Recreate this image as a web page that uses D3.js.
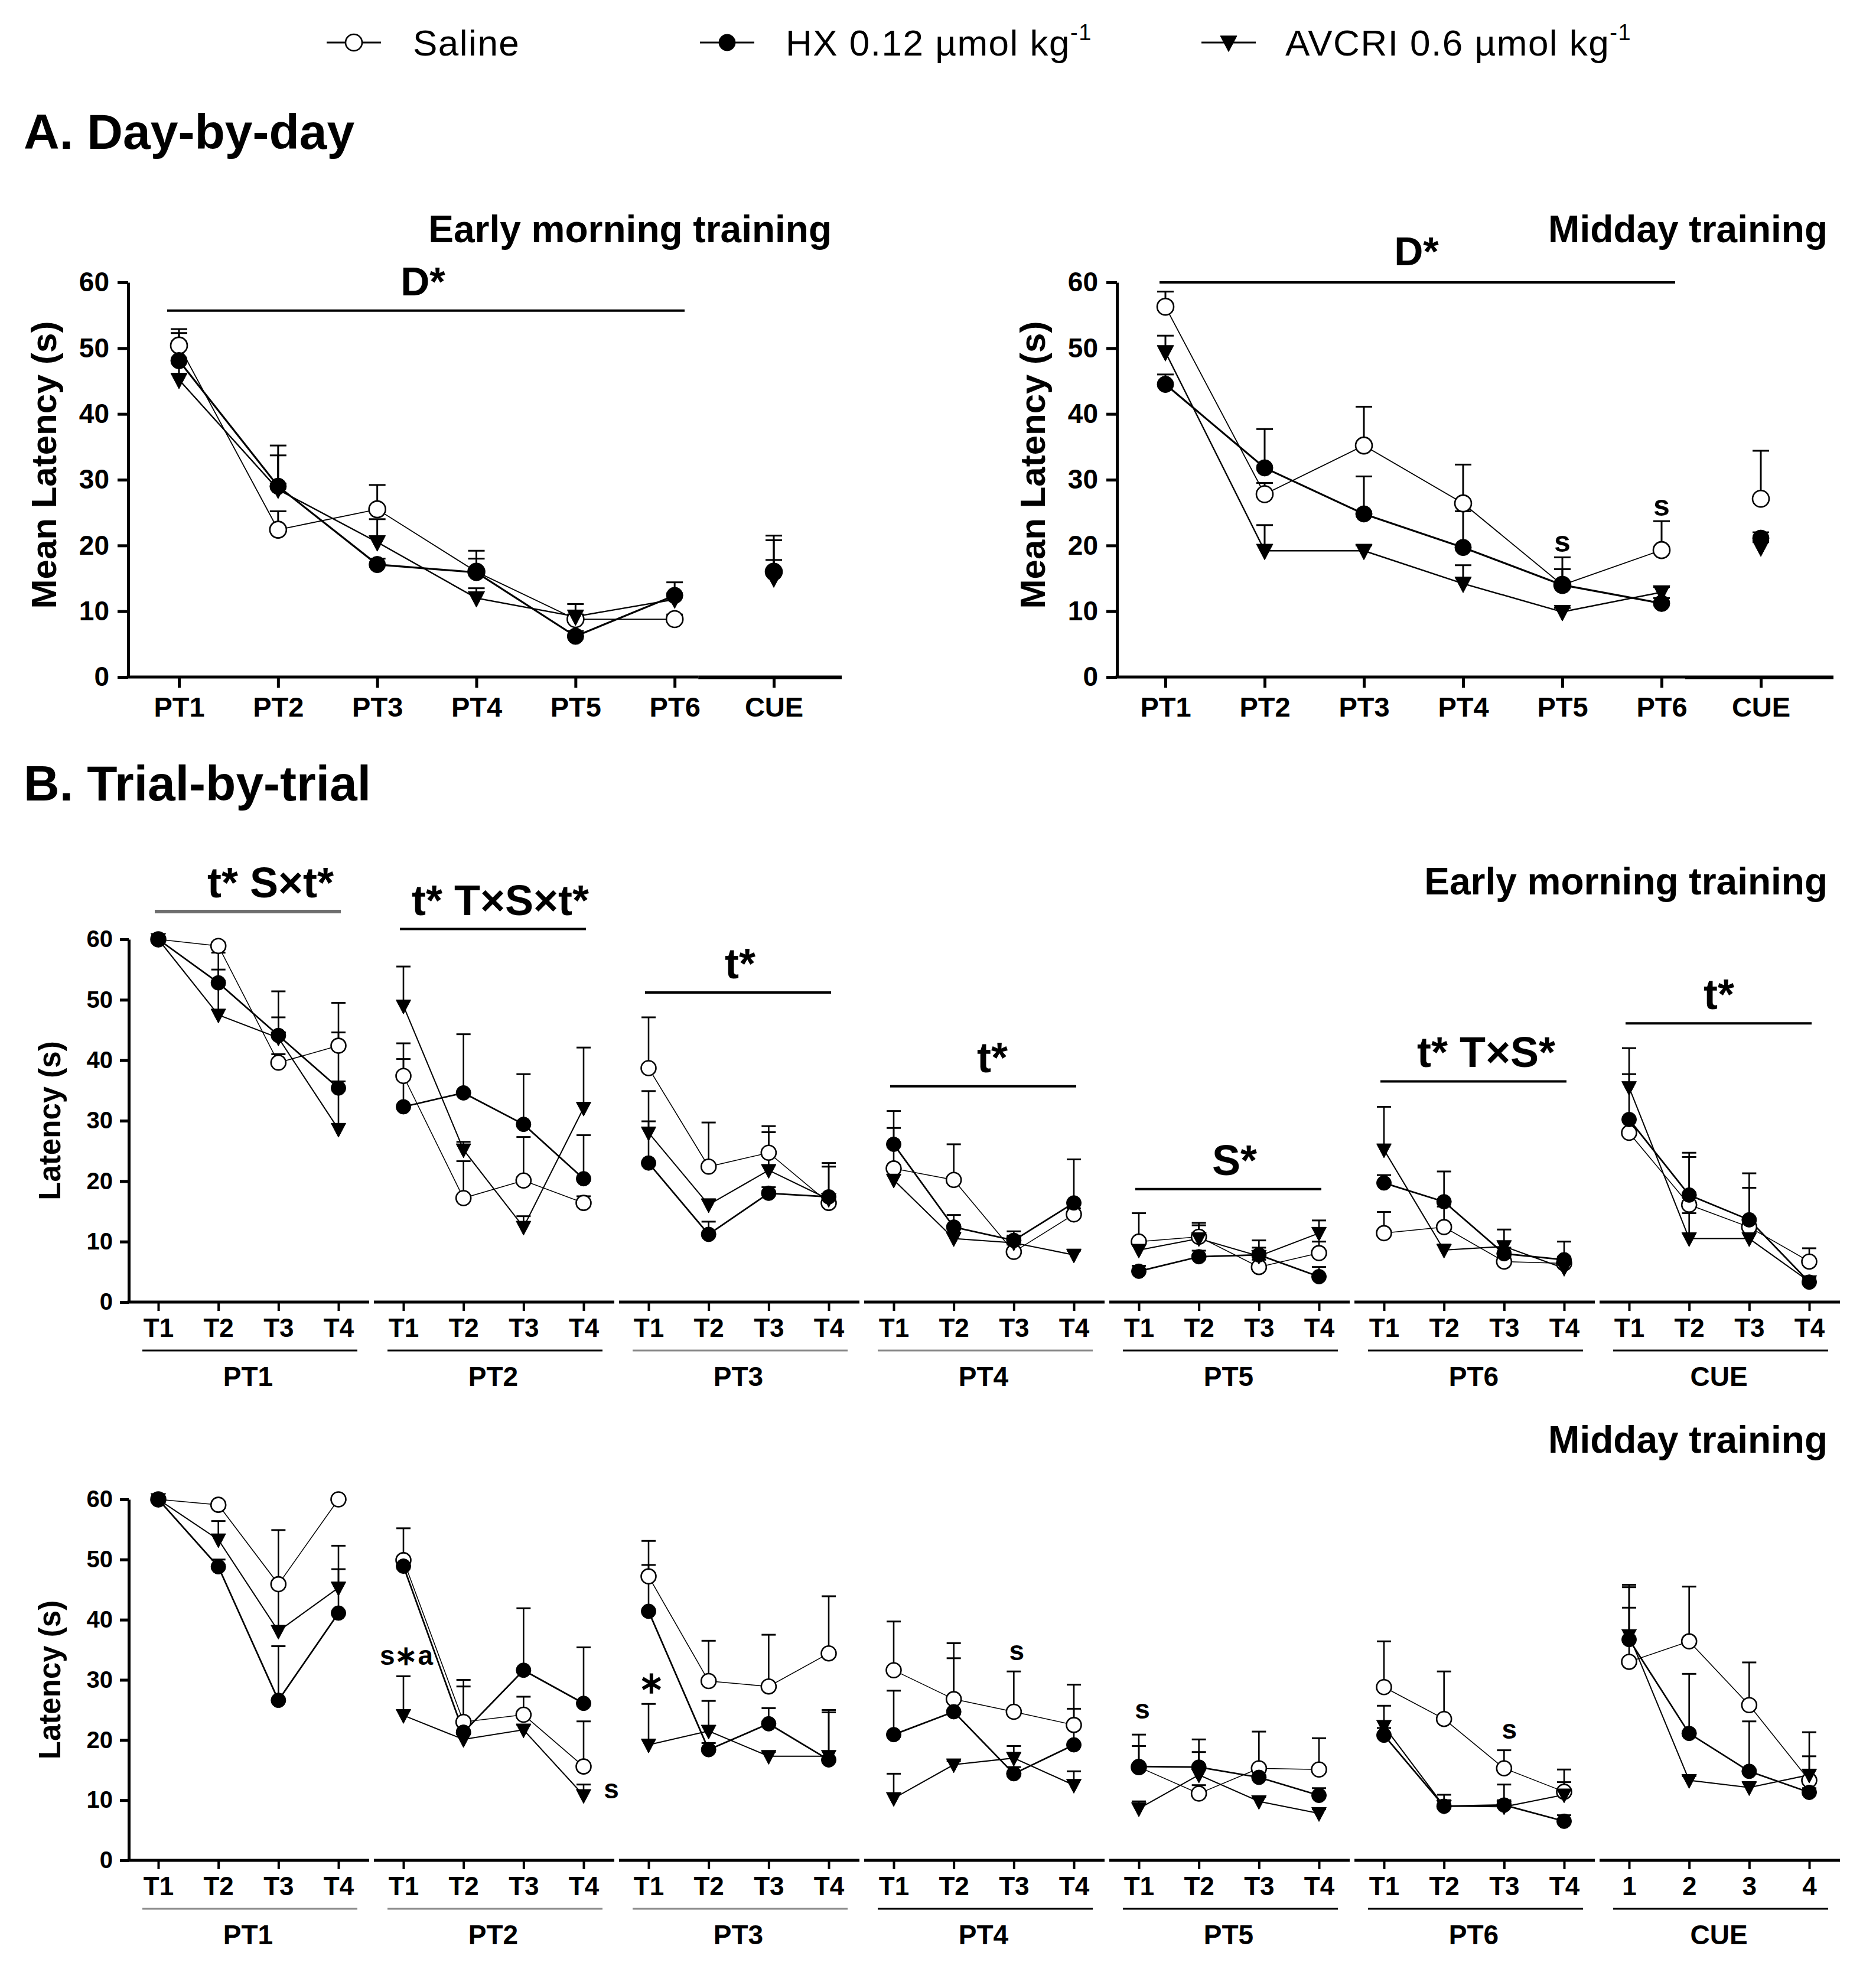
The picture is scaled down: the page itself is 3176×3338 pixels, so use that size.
<!DOCTYPE html>
<html>
<head>
<meta charset="utf-8">
<script src="https://cdn.jsdelivr.net/npm/d3@7"></script>
<style>
  body { margin: 0; background: #fff; }
  svg { display: block; font-family: "Liberation Sans", Arial, sans-serif; }
</style>
</head>
<body>
<svg id="chart" width="3176" height="3338"></svg>
<script>
// ---------- data ----------

const seriesNames = ["Saline", "HX", "AVCRI"];
const days = ["PT1", "PT2", "PT3", "PT4", "PT5", "PT6", "CUE"];
const trials = ["T1", "T2", "T3", "T4"];
const cueTrialLabelsMidday = ["1", "2", "3", "4"];
const yTicks = [0, 10, 20, 30, 40, 50, 60];

// A. Day-by-day : mean latency and top of the SEM bar
const dayEarlySaline    = [50.4, 22.4, 25.5, 16.0, 8.8, 8.8, 16.0];
const dayEarlySalineTop = [52.3, 25.2, 29.2, 18.0, 9.5, 9.5, 21.5];
const dayEarlyHX        = [48.1, 29.0, 17.1, 15.9, 6.2, 12.4, 15.9];
const dayEarlyHXTop     = [52.9, 35.2, 18.0, 19.2, 7.0, 14.4, 20.8];
const dayEarlyAV        = [45.2, 28.5, 20.5, 12.0, 9.2, 11.8, 15.0];
const dayEarlyAVTop     = [51.0, 33.7, 24.0, 13.5, 11.1, 12.5, 17.8];

const dayMidSaline    = [56.3, 27.8, 35.2, 26.4, 14.0, 19.3, 27.1];
const dayMidSalineTop = [58.6, 29.5, 41.1, 32.3, 16.4, 23.7, 34.4];
const dayMidHX        = [44.5, 31.8, 24.8, 19.7, 14.0, 11.2, 21.1];
const dayMidHXTop     = [46.0, 37.7, 30.5, 25.2, 18.2, 12.0, 22.0];
const dayMidAV        = [49.4, 19.2, 19.2, 14.2, 9.9, 12.9, 19.7];
const dayMidAVTop     = [51.9, 23.1, 20.0, 17.0, 10.5, 13.7, 20.5];

// B. Trial-by-trial : one row per day, four trials each
const trialEarlySaline = [
  [60, 58.9, 39.6, 42.4], [37.4, 17.2, 20.1, 16.4], [38.7, 22.4, 24.7, 16.4],
  [22.1, 20.2, 8.3, 14.5], [10.0, 10.8, 5.8, 8.1], [11.4, 12.4, 6.7, 6.4],
  [28.0, 16.1, 12.4, 6.7]];
const trialEarlySalineTop = [
  [60, 59.5, 41.0, 49.5], [42.8, 23.3, 27.3, 17.5], [47.1, 29.7, 29.1, 17.5],
  [28.8, 26.1, 9.5, 15.5], [14.7, 13.1, 7.0, 10.0], [14.9, 15.8, 7.5, 7.5],
  [30.0, 24.0, 18.9, 8.9]];
const trialEarlyHX = [
  [60, 52.8, 44.1, 35.4], [32.3, 34.6, 29.4, 20.4], [23.0, 11.2, 18.0, 17.4],
  [26.1, 12.4, 10.2, 16.4], [5.1, 7.5, 7.8, 4.2], [19.7, 16.6, 8.0, 7.0],
  [30.2, 17.7, 13.6, 3.3]];
const trialEarlyHXTop = [
  [60, 57.8, 51.4, 44.6], [40.2, 44.3, 37.7, 27.6], [29.9, 13.3, 19.0, 22.4],
  [31.6, 14.4, 11.7, 23.6], [6.0, 8.5, 10.2, 5.8], [21.0, 21.6, 9.0, 10.0],
  [37.7, 24.7, 21.3, 4.0]];
const trialEarlyAV = [
  [60, 47.5, 43.7, 28.6], [49.0, 25.2, 12.4, 32.1], [28.0, 16.1, 21.8, 17.0],
  [20.2, 10.5, 9.8, 7.8], [8.6, 10.5, 7.6, 11.4], [25.2, 8.6, 9.2, 5.6],
  [35.5, 10.5, 10.5, 3.4]];
const trialEarlyAVTop = [
  [60, 55.0, 47.1, 36.5], [55.5, 26.5, 14.2, 42.1], [34.9, 17.0, 28.1, 23.0],
  [21.5, 11.5, 11.0, 8.5], [9.5, 12.7, 9.0, 13.5], [32.3, 9.5, 12.0, 6.5],
  [42.0, 14.7, 12.0, 4.2]];

const trialMidSaline = [
  [60, 59.1, 45.9, 60], [49.9, 23.0, 24.2, 15.6], [47.2, 29.8, 28.9, 34.4],
  [31.6, 26.8, 24.7, 22.5], [15.5, 11.1, 15.3, 15.1], [28.8, 23.5, 15.3, 11.4],
  [33.0, 36.4, 25.8, 13.3]];
const trialMidSalineTop = [
  [60, 59.5, 54.9, 60], [55.2, 28.9, 27.2, 23.1], [53.1, 36.5, 37.5, 43.9],
  [39.7, 36.1, 31.4, 29.2], [20.9, 12.5, 21.4, 20.3], [36.4, 31.4, 18.3, 13.0],
  [42.0, 45.5, 32.9, 17.3]];
const trialMidHX = [
  [60, 48.8, 26.6, 41.1], [48.9, 21.3, 31.6, 26.1], [41.4, 18.4, 22.7, 16.7],
  [20.9, 24.7, 14.4, 19.2], [15.6, 15.5, 13.8, 10.8], [20.8, 9.0, 9.2, 6.5],
  [36.7, 21.1, 14.8, 11.3]];
const trialMidHXTop = [
  [60, 50.0, 35.6, 48.4], [50.0, 30.0, 41.9, 35.4], [49.1, 19.5, 25.3, 25.0],
  [28.2, 33.6, 15.5, 25.2], [19.0, 20.1, 15.0, 12.0], [22.0, 10.0, 12.6, 7.5],
  [45.8, 31.0, 23.1, 12.0]];
const trialMidAV = [
  [60, 53.3, 38.1, 45.3], [24.1, 20.1, 21.7, 10.8], [19.2, 21.5, 17.3, 17.3],
  [10.3, 15.9, 17.0, 12.5], [8.6, 14.2, 9.8, 7.8], [22.3, 9.0, 8.9, 10.9],
  [37.4, 13.3, 12.1, 14.2]];
const trialMidAVTop = [
  [60, 56.4, 45.5, 52.3], [30.6, 21.0, 22.5, 12.6], [26.0, 26.5, 18.0, 24.6],
  [14.4, 16.5, 19.0, 14.8], [9.8, 18.0, 10.5, 8.5], [25.7, 10.9, 10.0, 15.1],
  [45.4, 14.0, 13.0, 21.3]];

// statistics labels over each day (value = height of the bar line)
const trialEarlyStats = [
  {day: "PT1", label: "t* S×t*", at: 64.6, dx: 38},
  {day: "PT2", label: "t* T×S×t*", at: 61.7, dx: 12},
  {day: "PT3", label: "t*", at: 51.2, dx: 3},
  {day: "PT4", label: "t*", at: 35.7, dx: 15},
  {day: "PT5", label: "S*", at: 18.7, dx: 10},
  {day: "PT6", label: "t* T×S*", at: 36.5, dx: 21},
  {day: "CUE", label: "t*", at: 46.1, dx: 0}
];
const trialMidNotes = [
  {day: "PT2", trial: "T1", value: 34.1, dx: 5, label: "s∗a"},
  {day: "PT2", trial: "T4", value: 11.9, dx: 47, label: "s"},
  {day: "PT3", trial: "T1", value: 29.6, dx: 5, label: "∗"},
  {day: "PT4", trial: "T3", value: 34.9, dx: 5, label: "s"},
  {day: "PT5", trial: "T1", value: 25.2, dx: 6, label: "s"},
  {day: "PT6", trial: "T3", value: 21.9, dx: 9, label: "s"}
];
const dayMidNotes = [
  {day: "PT5", value: 20.7, label: "s"},
  {day: "PT6", value: 26.1, label: "s"}
];

// ---------- styles ----------
const STYLE = {
  Saline: {fill: "#fff", shape: "circle", lw: 1.8},
  HX:     {fill: "#000", shape: "circle", lw: 3.2},
  AVCRI:  {fill: "#000", shape: "triangle", lw: 2.4}
};
const drawOrder = ["Saline", "AVCRI", "HX"];

const svg = d3.select("#chart");
svg.append("rect").attr("width", 3176).attr("height", 3338).attr("fill", "#fff");

function markerPath(shape, size) {
  if (shape === "circle") return d3.symbol(d3.symbolCircle, Math.PI * size * size / 4)();
  const w = size;
  return `M${-w / 2},${-w * 0.4}L${w / 2},${-w * 0.4}L0,${w * 0.55}Z`;
}

function drawMarker(g, name, cx, cy, size) {
  const st = STYLE[name];
  g.append("path")
    .attr("d", markerPath(st.shape, size))
    .attr("transform", `translate(${cx},${cy})`)
    .attr("fill", st.fill)
    .attr("stroke", "#000")
    .attr("stroke-width", st.shape === "circle" && st.fill === "#fff" ? 2.6 : 1);
}

function styleYAxis(ax, fontSize) {
  ax.attr("font-family", null).attr("font-size", null);
  ax.select(".domain").attr("stroke-width", 5);
  ax.selectAll(".tick line").attr("stroke-width", 5);
  ax.selectAll(".tick text").attr("font-size", fontSize).attr("font-weight", "bold").attr("fill", "#000");
}

// ---------- A. Day-by-day ----------
function drawDayPanel(cfg) {
  const g = svg.append("g");
  const x = d3.scalePoint().domain(days).range(cfg.xRange);
  const y = d3.scaleLinear().domain([0, 60]).range([1146, 478]);

  const yAx = g.append("g").attr("transform", `translate(${cfg.axisX},0)`)
    .call(d3.axisLeft(y).tickValues(yTicks).tickSize(18).tickSizeOuter(0).tickPadding(14));
  styleYAxis(yAx, 46);

  const xAx = g.append("g").attr("transform", `translate(0,${y(0)})`)
    .call(d3.axisBottom(x).tickSize(18).tickSizeOuter(0).tickPadding(16));
  xAx.attr("font-family", null).attr("font-size", null);
  xAx.select(".domain").remove();
  xAx.selectAll(".tick line").attr("stroke-width", 5);
  xAx.selectAll(".tick text").attr("font-size", 47).attr("font-weight", "bold").attr("fill", "#000");

  // baseline: PT days, then a slightly heavier piece under CUE
  const brk = x("PT6") + 40;
  g.append("line").attr("x1", cfg.axisX - 2.5).attr("x2", brk).attr("y1", y(0)).attr("y2", y(0))
    .attr("stroke", "#000").attr("stroke-width", 5);
  g.append("line").attr("x1", brk).attr("x2", cfg.xEnd).attr("y1", y(0) + 0.5).attr("y2", y(0) + 0.5)
    .attr("stroke", "#000").attr("stroke-width", 6);

  g.append("text")
    .attr("transform", `translate(${cfg.axisX - 122},${(y(0) + y(60)) / 2 - 25}) rotate(-90)`)
    .attr("text-anchor", "middle").attr("font-size", 60).attr("font-weight", "bold")
    .text("Mean Latency (s)");

  g.append("text").attr("x", cfg.titleX).attr("y", 410).attr("text-anchor", "end")
    .attr("font-size", 64).attr("font-weight", "bold").text(cfg.title);

  // D* bar
  g.append("line").attr("x1", cfg.dLine[0]).attr("x2", cfg.dLine[1])
    .attr("y1", y(cfg.dAt)).attr("y2", y(cfg.dAt)).attr("stroke", "#000").attr("stroke-width", 4);
  g.append("text").attr("x", cfg.dTextX).attr("y", y(cfg.dAt) - cfg.dGap)
    .attr("text-anchor", "middle").attr("font-size", 68).attr("font-weight", "bold").text("D*");

  const sets = {Saline: [cfg.saline, cfg.salineTop], HX: [cfg.hx, cfg.hxTop], AVCRI: [cfg.av, cfg.avTop]};

  // error bars (upper SEM)
  drawOrder.forEach(name => {
    const [m, top] = sets[name];
    m.forEach((v, i) => {
      const cx = x(days[i]);
      g.append("line").attr("x1", cx).attr("x2", cx).attr("y1", y(v)).attr("y2", y(top[i]))
        .attr("stroke", "#000").attr("stroke-width", 3);
      g.append("line").attr("x1", cx - 14).attr("x2", cx + 14).attr("y1", y(top[i])).attr("y2", y(top[i]))
        .attr("stroke", "#000").attr("stroke-width", 3);
    });
  });
  // lines over PT1..PT6 (CUE is separate)
  drawOrder.forEach(name => {
    const m = sets[name][0].slice(0, 6);
    g.append("path")
      .attr("d", d3.line().x((d, i) => x(days[i])).y(d => y(d))(m))
      .attr("fill", "none").attr("stroke", "#000").attr("stroke-width", STYLE[name].lw);
  });
  drawOrder.forEach(name => {
    sets[name][0].forEach((v, i) => drawMarker(g, name, x(days[i]), y(v), 28));
  });

  (cfg.notes || []).forEach(n => {
    g.append("text").attr("x", x(n.day)).attr("y", y(n.value)).attr("dy", "0.36em")
      .attr("text-anchor", "middle").attr("font-size", 50).attr("font-weight", "bold").text(n.label);
  });
}

drawDayPanel({
  axisX: 217, xRange: [303, 1310], xEnd: 1425, titleX: 1408, title: "Early morning training",
  dLine: [283, 1159], dAt: 55.7, dTextX: 716, dGap: 26,
  saline: dayEarlySaline, salineTop: dayEarlySalineTop, hx: dayEarlyHX, hxTop: dayEarlyHXTop,
  av: dayEarlyAV, avTop: dayEarlyAVTop
});
drawDayPanel({
  axisX: 1891, xRange: [1973, 2981], xEnd: 3104, titleX: 3094, title: "Midday training",
  dLine: [1963, 2836], dAt: 60, dTextX: 2398, dGap: 29,
  saline: dayMidSaline, salineTop: dayMidSalineTop, hx: dayMidHX, hxTop: dayMidHXTop,
  av: dayMidAV, avTop: dayMidAVTop, notes: dayMidNotes
});

// ---------- B. Trial-by-trial ----------
function drawTrialRow(cfg) {
  const g = svg.append("g");
  const gx = d3.scalePoint().domain(days).range([268, 268 + 6 * 415]);
  const tx = d3.scalePoint().domain(trials).range([0, 305]);
  const y = d3.scaleLinear().domain([0, 60]).range([cfg.yBot, cfg.yTop]);
  const px = (di, ti) => gx(days[di]) + tx(trials[ti]);
  const axisX = gx("PT1") - 50;

  const yAx = g.append("g").attr("transform", `translate(${axisX},0)`)
    .call(d3.axisLeft(y).tickValues(yTicks).tickSize(15).tickSizeOuter(0).tickPadding(12));
  styleYAxis(yAx, 40);

  g.append("text")
    .attr("transform", `translate(${axisX - 116},${(y(0) + y(60)) / 2}) rotate(-90)`)
    .attr("text-anchor", "middle").attr("font-size", 51).attr("font-weight", "bold")
    .text("Latency (s)");

  days.forEach((day, di) => {
    const x0 = gx(day);
    const ax = g.append("g").attr("transform", `translate(${x0},${y(0)})`)
      .call(d3.axisBottom(tx).tickSize(15).tickSizeOuter(0).tickPadding(13)
        .tickFormat((t, i) => (day === "CUE" && cfg.cueNumbers) ? cueTrialLabelsMidday[i] : t));
    ax.attr("font-family", null).attr("font-size", null);
    ax.select(".domain").remove();
    ax.selectAll(".tick line").attr("stroke-width", 4);
    ax.selectAll(".tick text").attr("font-size", 44).attr("font-weight", "bold").attr("fill", "#000");

    g.append("line").attr("x1", di === 0 ? axisX - 2.5 : x0 - 50).attr("x2", x0 + 357)
      .attr("y1", y(0)).attr("y2", y(0)).attr("stroke", "#000").attr("stroke-width", 5);
    g.append("line").attr("x1", x0 - 27).attr("x2", x0 + 337)
      .attr("y1", y(0) + 82).attr("y2", y(0) + 82)
      .attr("stroke", cfg.grayUnder.includes(day) ? "#8a8a8a" : "#000").attr("stroke-width", 3);
    g.append("text").attr("x", x0 + 152).attr("y", y(0) + 142).attr("text-anchor", "middle")
      .attr("font-size", 46).attr("font-weight", "bold").text(day);
  });

  g.append("text").attr("x", 3094).attr("y", cfg.titleY).attr("text-anchor", "end")
    .attr("font-size", 64).attr("font-weight", "bold").text(cfg.title);

  const sets = {Saline: [cfg.saline, cfg.salineTop], HX: [cfg.hx, cfg.hxTop], AVCRI: [cfg.av, cfg.avTop]};

  drawOrder.forEach(name => {
    const [m, top] = sets[name];
    m.forEach((row, di) => row.forEach((v, ti) => {
      if (top[di][ti] <= v) return;
      const cx = px(di, ti);
      g.append("line").attr("x1", cx).attr("x2", cx).attr("y1", y(v)).attr("y2", y(top[di][ti]))
        .attr("stroke", "#000").attr("stroke-width", 2.6);
      g.append("line").attr("x1", cx - 12).attr("x2", cx + 12)
        .attr("y1", y(top[di][ti])).attr("y2", y(top[di][ti]))
        .attr("stroke", "#000").attr("stroke-width", 3);
    }));
  });
  drawOrder.forEach(name => {
    sets[name][0].forEach((row, di) => {
      g.append("path")
        .attr("d", d3.line().x((d, ti) => px(di, ti)).y(d => y(d))(row))
        .attr("fill", "none").attr("stroke", "#000").attr("stroke-width", STYLE[name].lw * 0.85);
    });
  });
  drawOrder.forEach(name => {
    sets[name][0].forEach((row, di) => row.forEach((v, ti) => drawMarker(g, name, px(di, ti), y(v), 25)));
  });

  (cfg.stats || []).forEach(s => {
    const x0 = gx(s.day);
    g.append("line").attr("x1", x0 - 6).attr("x2", x0 + 309)
      .attr("y1", y(s.at)).attr("y2", y(s.at))
      .attr("stroke", s.day === "PT1" ? "#6e6e6e" : "#000").attr("stroke-width", s.day === "PT1" ? 6 : 4);
    g.append("text").attr("x", x0 + 152 + s.dx).attr("y", y(s.at) - 24)
      .attr("text-anchor", "middle").attr("font-size", 72).attr("font-weight", "bold").text(s.label);
  });
  (cfg.notes || []).forEach(n => {
    g.append("text").attr("x", gx(n.day) + tx(n.trial) + n.dx).attr("y", y(n.value)).attr("dy", "0.36em")
      .attr("text-anchor", "middle").attr("font-size", n.label === "∗" ? 52 : 46)
      .attr("font-weight", "bold").text(n.label);
  });
}

drawTrialRow({
  yTop: 1590, yBot: 2204, title: "Early morning training", titleY: 1514,
  saline: trialEarlySaline, salineTop: trialEarlySalineTop, hx: trialEarlyHX, hxTop: trialEarlyHXTop,
  av: trialEarlyAV, avTop: trialEarlyAVTop, stats: trialEarlyStats, grayUnder: ["PT3", "PT4"],
  cueNumbers: false
});
drawTrialRow({
  yTop: 2538, yBot: 3149, title: "Midday training", titleY: 2459,
  saline: trialMidSaline, salineTop: trialMidSalineTop, hx: trialMidHX, hxTop: trialMidHXTop,
  av: trialMidAV, avTop: trialMidAVTop, notes: trialMidNotes, grayUnder: ["PT1", "PT2", "PT3"],
  cueNumbers: true
});

// ---------- section titles ----------
svg.append("text").attr("x", 40).attr("y", 252).attr("font-size", 84).attr("font-weight", "bold")
  .text("A. Day-by-day");
svg.append("text").attr("x", 40).attr("y", 1355).attr("font-size", 84).attr("font-weight", "bold")
  .text("B. Trial-by-trial");

// ---------- legend ----------
const legendItems = [
  {name: "Saline", mx: 599, tx: 699, label: "Saline", sup: null},
  {name: "HX", mx: 1231, tx: 1330, label: "HX 0.12 µmol kg", sup: "-1"},
  {name: "AVCRI", mx: 2080, tx: 2176, label: "AVCRI 0.6 µmol kg", sup: "-1"}
];
const lg = svg.append("g");
legendItems.forEach(it => {
  lg.append("line").attr("x1", it.mx - 46).attr("x2", it.mx + 46).attr("y1", 72).attr("y2", 72)
    .attr("stroke", "#000").attr("stroke-width", 3);
  drawMarker(lg, it.name, it.mx, 72, 28);
  const t = lg.append("text").attr("x", it.tx).attr("y", 94).attr("font-size", 62)
    .attr("letter-spacing", 1.5).text(it.label);
  if (it.sup) t.append("tspan").attr("dy", -26).attr("font-size", 38).text(it.sup);
});
</script>
</body>
</html>
